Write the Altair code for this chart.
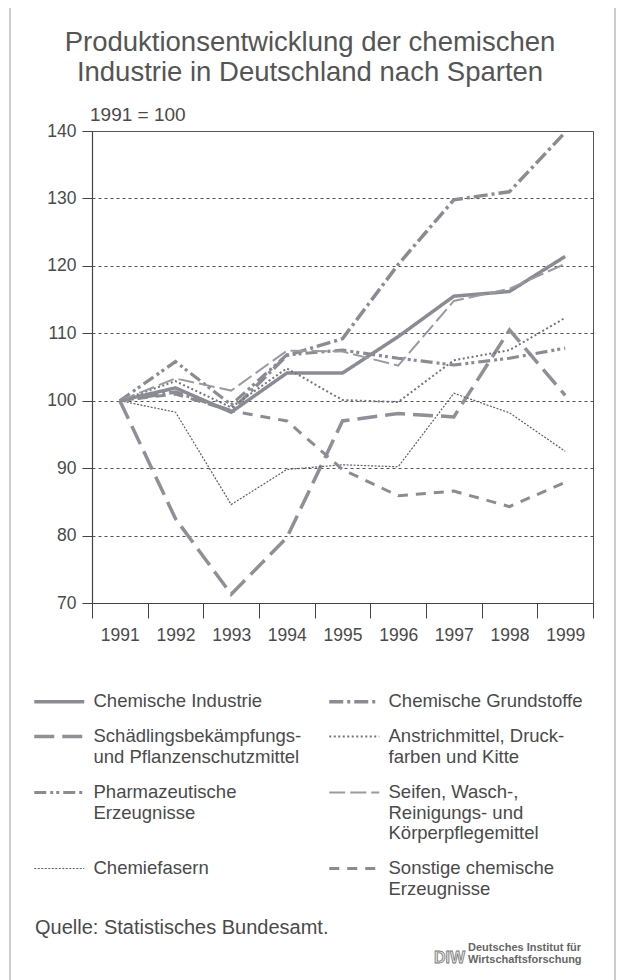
import altair as alt
import pandas as pd

# ---------------- data ----------------
years = [1991, 1992, 1993, 1994, 1995, 1996, 1997, 1998, 1999]

series_names = [
    "Chemische Industrie",
    "Chemische Grundstoffe",
    "Schädlingsbekämpfungs-\nund Pflanzenschutzmittel",
    "Anstrichmittel, Druck-\nfarben und Kitte",
    "Pharmazeutische\nErzeugnisse",
    "Seifen, Wasch-,\nReinigungs- und\nKörperpflegemittel",
    "Chemiefasern",
    "Sonstige chemische\nErzeugnisse",
]

chem_industrie = [100, 101.9, 98.3, 104.1, 104.1, 109.5, 115.5, 116.2, 121.4]
grundstoffe = [100, 101.3, 98.5, 106.7, 109.2, 120.2, 129.8, 131.0, 139.8]
schaedlinge = [100, 82.5, 71.3, 79.7, 97.0, 98.1, 97.6, 110.5, 100.8]
anstrichmittel = [100, 102.9, 99.0, 104.8, 100.1, 99.8, 106.0, 107.5, 112.3]
pharma = [100, 105.8, 99.4, 106.8, 107.5, 106.3, 105.3, 106.3, 107.8]
seifen = [100, 103.3, 101.5, 107.4, 107.3, 105.2, 114.8, 116.6, 120.3]
chemiefasern = [100, 98.3, 84.6, 89.8, 90.5, 90.2, 101.1, 98.2, 92.5]
sonstige = [100, 101.0, 98.5, 97.0, 89.8, 85.9, 86.6, 84.3, 87.9]

all_values = [chem_industrie, grundstoffe, schaedlinge, anstrichmittel,
              pharma, seifen, chemiefasern, sonstige]

y_ticks = [70, 80, 90, 100, 110, 120, 130, 140]

title_lines = ["Produktionsentwicklung der chemischen",
               "Industrie in Deutschland nach Sparten"]
base_note = "1991 = 100"
source_note = "Quelle: Statistisches Bundesamt."
logo_mark = "DIW"
logo_lines = ["Deutsches Institut für", "Wirtschaftsforschung"]

# ---------------- styles ----------------
line_colors = ["#8b8b93", "#8b8b93", "#8f8f97", "#73737f", "#8b8b93",
               "#9a9aa2", "#5e5e6c", "#8b8b93"]
line_dashes = [[1, 0], [14, 4, 3, 4], [20, 8], [2, 2.5], [12, 4, 3, 3, 3, 4],
               [16, 5], [2, 1.5], [10, 8]]
line_widths = [3.5, 3.5, 3.5, 2.0, 3.2, 2.0, 1.2, 3.0]

TEXT = "#4a4a4a"
FONT = "Liberation Sans"

rows = []
for name, vals in zip(series_names, all_values):
    for yr, v in zip(years, vals):
        rows.append({"Jahr": yr, "Index": v, "Sparte": name})
df = pd.DataFrame(rows)

leg = alt.Legend(
    title=None,
    orient="none",
    direction="horizontal",
    legendX=-42,
    legendY=552,
    columns=2,
    columnPadding=20,
    rowPadding=7,
    padding=0,
    # small symbol "size" keeps entries compact; the path itself is 50px long
    # and shifted down so it sits on the first label line
    symbolType="M-5,1.85H5",
    symbolSize=100,
    labelFont=FONT,
    labelFontSize=18.5,
    labelColor=TEXT,
    labelLimit=500,
    labelOffset=25,
    labelBaseline="top",
    labelExpr="split(datum.label, '\\n')",
)

lines = alt.Chart(df).mark_line(strokeCap="butt", strokeJoin="miter").encode(
    x=alt.X("Jahr:O",
            scale=alt.Scale(type="band", paddingInner=0, paddingOuter=0),
            bandPosition=0.5,
            axis=alt.Axis(title=None, tickBand="extent", tickSize=15, labelPadding=8,
                          labelAngle=0, grid=False)),
    y=alt.Y("Index:Q",
            scale=alt.Scale(domain=[70, 140], nice=False, zero=False),
            axis=alt.Axis(title=None, values=y_ticks, grid=True, gridDash=[3, 3],
                          gridColor="#555", gridWidth=1, tickSize=10, labelPadding=6)),
    color=alt.Color("Sparte:N", sort=series_names,
                    scale=alt.Scale(domain=series_names, range=line_colors), legend=leg),
    strokeDash=alt.StrokeDash("Sparte:N", sort=series_names,
                              scale=alt.Scale(domain=series_names, range=line_dashes), legend=leg),
    strokeWidth=alt.StrokeWidth("Sparte:N", sort=series_names,
                                scale=alt.Scale(type="ordinal", domain=series_names, range=line_widths),
                                legend=leg),
)

def text_layer(txt, x, y, size, align="left", color=TEXT, weight="normal", font=FONT, **kw):
    return alt.Chart(pd.DataFrame({"t": [txt]})).mark_text(
        align=align, baseline="alphabetic", fontSize=size, font=font,
        color=color, fontWeight=weight, **kw
    ).encode(text="t:N", x=alt.value(x), y=alt.value(y))

title1 = text_layer(title_lines[0], 218, -80, 27.5, align="center", color="#555")
title2 = text_layer(title_lines[1], 218, -50, 27.5, align="center", color="#555")
note = text_layer(base_note, -2, -10, 19)
source = text_layer(source_note, -57, 803, 20)
logo = text_layer(logo_mark, 342, 832, 16, color="#e2e2e2", weight="bold",
                  stroke="#777", strokeWidth=0.8)
logo1 = text_layer(logo_lines[0], 376, 820, 11, weight="bold", color="#666")
logo2 = text_layer(logo_lines[1], 376, 832, 11, weight="bold", color="#666")

frame = alt.Chart(pd.DataFrame({"a": [0]})).mark_rect(
    fill=None, stroke="#999", strokeWidth=1
).encode(x=alt.value(-82), x2=alt.value(523), y=alt.value(-126), y2=alt.value(870))

chart = alt.layer(lines, frame, title1, title2, note, source, logo, logo1, logo2).properties(
    width=501, height=472,
    autosize="none",
    padding={"left": 84, "top": 123, "right": 24, "bottom": 400},
    background="white",
).configure_view(
    stroke="#555", strokeWidth=1
).configure_axis(
    labelFont=FONT, labelFontSize=17.5, labelColor=TEXT,
    domainColor="#444", tickColor="#444", domainWidth=1.2, tickWidth=1,
)

chart.save("out.html", embed_options={"renderer": "svg", "actions": False})
